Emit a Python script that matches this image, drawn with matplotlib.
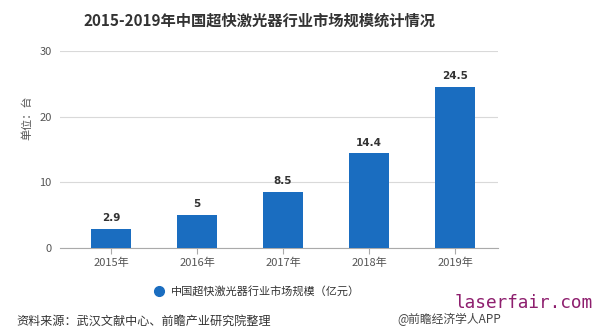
import matplotlib
matplotlib.use("Agg")
import matplotlib.pyplot as plt
from matplotlib.lines import Line2D

plt.rcParams["font.family"] = ["Noto Sans CJK SC", "DejaVu Sans"]

years = ["2015年", "2016年", "2017年", "2018年", "2019年"]
market_size = [2.9, 5, 8.5, 14.4, 24.5]
y_ticks = [0, 10, 20, 30]

bar_color = "#1a6dc0"
grey = "#555555"

fig = plt.figure(figsize=(6, 3.36), dpi=100)
ax = fig.add_axes([0.1, 0.262, 0.73, 0.586])

x = range(len(years))
bars = ax.bar(x, market_size, width=0.465, color=bar_color, zorder=3)
for b, v in zip(bars, market_size):
    ax.text(b.get_x() + b.get_width() / 2, v + 0.9, f"{v:g}",
            ha="center", va="bottom", fontsize=7.5, fontweight="bold",
            color="#333333", family="DejaVu Sans")

ax.set_xlim(-0.593, 4.5)
ax.set_ylim(0, 30)
ax.set_yticks(y_ticks)
ax.set_xticks(list(x))
ax.set_xticklabels(years)
ax.grid(axis="y", color="#d9d9d9", linewidth=0.8, zorder=0)
for s in ["top", "right", "left"]:
    ax.spines[s].set_visible(False)
ax.spines["bottom"].set_color("#aaaaaa")
ax.tick_params(axis="y", length=0, pad=6, labelsize=8, labelcolor=grey)
ax.tick_params(axis="x", length=4, color="#aaaaaa", labelsize=8,
               labelcolor=grey, pad=3)
ax.set_ylabel("单位：台", fontsize=8, color=grey)
ax.yaxis.set_label_coords(-0.062, 0.66)

fig.text(0.433, 0.9375, "2015-2019年中国超快激光器行业市场规模统计情况",
         ha="center", va="center", fontsize=11, fontweight="bold",
         color="#333333")

handle = Line2D([], [], marker="o", linestyle="none", markersize=7,
                markerfacecolor=bar_color, markeredgecolor=bar_color)
fig.legend([handle], ["中国超快激光器行业市场规模（亿元）"],
           loc="center left", bbox_to_anchor=(0.239, 0.134), frameon=False,
           fontsize=8, handlelength=1.0, handletextpad=0.6,
           labelcolor="#333333")

fig.text(0.028, 0.045, "资料来源：武汉文献中心、前瞻产业研究院整理",
         fontsize=8.7, color="#333333", va="center")
fig.text(0.662, 0.048, "@前瞻经济学人APP", fontsize=8.5, color="#444444",
         va="center")
fig.text(0.988, 0.098, "laserfair.com", fontsize=12.8, color="#8e1f6e",
         ha="right", va="center", family="DejaVu Sans Mono")

fig.savefig("out.png", dpi=100, facecolor="white")
